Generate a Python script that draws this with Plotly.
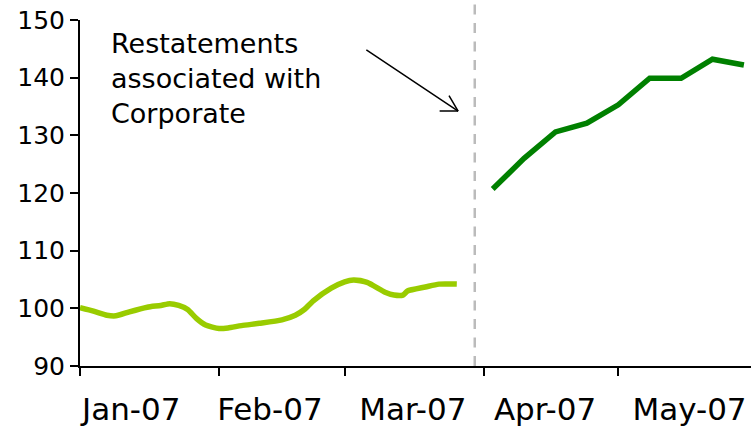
import plotly.graph_objects as go

# Index level before the restatement (smoothed daily series)
pre_dates = [
    "2007-01-01", "2007-01-04", "2007-01-07", "2007-01-09", "2007-01-12",
    "2007-01-16", "2007-01-19", "2007-01-21", "2007-01-23", "2007-01-25",
    "2007-01-27", "2007-01-29", "2007-02-01", "2007-02-03", "2007-02-06",
    "2007-02-10", "2007-02-15", "2007-02-18", "2007-02-20", "2007-02-22",
    "2007-02-26", "2007-03-01", "2007-03-03", "2007-03-06", "2007-03-10",
    "2007-03-12", "2007-03-14", "2007-03-15", "2007-03-19", "2007-03-22",
    "2007-03-26",
]
pre_values = [
    100.1, 99.5, 98.8, 98.7, 99.4,
    100.2, 100.5, 100.8, 100.5, 99.8,
    98.2, 97.1, 96.5, 96.6, 97.0,
    97.4, 98.0, 98.8, 99.8, 101.3,
    103.5, 104.6, 104.9, 104.5, 102.8,
    102.3, 102.3, 103.0, 103.7, 104.2,
    104.2,
]

# Index level after the restatement (weekly)
post_dates = [
    "2007-04-03", "2007-04-10", "2007-04-17", "2007-04-24", "2007-05-01",
    "2007-05-08", "2007-05-15", "2007-05-22", "2007-05-29",
]
post_values = [120.7, 126.0, 130.6, 132.1, 135.3, 139.9, 139.9, 143.2, 142.2]

# Axis labelling
month_starts = ["2007-01-01", "2007-02-01", "2007-03-01", "2007-04-01", "2007-05-01"]
month_labels = ["Jan-07", "Feb-07", "Mar-07", "Apr-07", "May-07"]
y_ticks = [90, 100, 110, 120, 130, 140, 150]

restatement_date = "2007-03-30"
note_text = "Restatements<br>associated with<br>Corporate"

FONT = "DejaVu Sans, Verdana, sans-serif"

fig = go.Figure()
fig.add_trace(go.Scatter(
    x=pre_dates, y=pre_values, mode="lines",
    line=dict(color="#99CC00", width=5.5, shape="spline", smoothing=0.6),
    showlegend=False, hoverinfo="skip",
))
fig.add_trace(go.Scatter(
    x=post_dates, y=post_values, mode="lines",
    line=dict(color="#008000", width=5.5),
    showlegend=False, hoverinfo="skip",
))

# dashed separator marking the restatement
fig.add_shape(
    type="line", xref="x", yref="paper",
    x0=restatement_date, x1=restatement_date, y0=0, y1=1.049,
    line=dict(color="#BBBBBB", width=2.5, dash="10px,8.5px"),
)

# note text
fig.add_annotation(
    x="2007-01-07 12:00", y=148.9, xref="x", yref="y",
    text=note_text, showarrow=False, align="left",
    xanchor="left", yanchor="top",
    font=dict(family=FONT, size=27, color="#000000"),
)

# arrow pointing at the separator: a plain shaft plus two open barbs
arrow_tip = ("2007-03-26 07:00", 134.2)
arrow_tail = ("2007-03-05 12:00", 145.0)
fig.add_annotation(
    x=arrow_tip[0], y=arrow_tip[1], xref="x", yref="y",
    ax=arrow_tail[0], ay=arrow_tail[1], axref="x", ayref="y",
    text="", showarrow=True, arrowhead=0, arrowwidth=1.5, arrowcolor="#000000",
)
for dx, dy in [(-20, 0), (-10, -17)]:
    fig.add_annotation(
        x=arrow_tip[0], y=arrow_tip[1], xref="x", yref="y",
        ax=dx, ay=dy, text="", showarrow=True, arrowhead=0,
        arrowwidth=1.5, arrowcolor="#000000",
    )

# label anchors sit near the middle of each month
label_pos = ["2007-01-12 10:00", "2007-02-12 08:00", "2007-03-16 05:00",
             "2007-04-14 16:00", "2007-05-16 21:00"]

fig.update_layout(
    width=751, height=426,
    margin=dict(l=80, r=0, t=20, b=60, autoexpand=False),
    paper_bgcolor="white", plot_bgcolor="white",
    font=dict(family=FONT, color="#000000"),
    xaxis=dict(
        type="date", automargin=False,
        range=["2007-01-01", "2007-05-30 14:00"],
        tickmode="array", tickvals=label_pos, ticktext=month_labels,
        ticks="", showgrid=False, zeroline=False,
        showline=True, linecolor="#000000", linewidth=2,
        tickfont=dict(family=FONT, size=31, color="#000000"),
        ticklabelstandoff=15,
        minor=dict(tickmode="array", tickvals=month_starts, ticks="outside",
                   ticklen=8, tickwidth=2, tickcolor="#000000", showgrid=False),
    ),
    yaxis=dict(
        range=[90, 150], tickmode="array", tickvals=y_ticks, automargin=False,
        ticks="outside", ticklen=8, tickwidth=2, tickcolor="#000000",
        showgrid=False, zeroline=False,
        showline=True, linecolor="#000000", linewidth=2,
        tickfont=dict(family=FONT, size=25, color="#000000"),
    ),
)

fig.write_html("out.html")
